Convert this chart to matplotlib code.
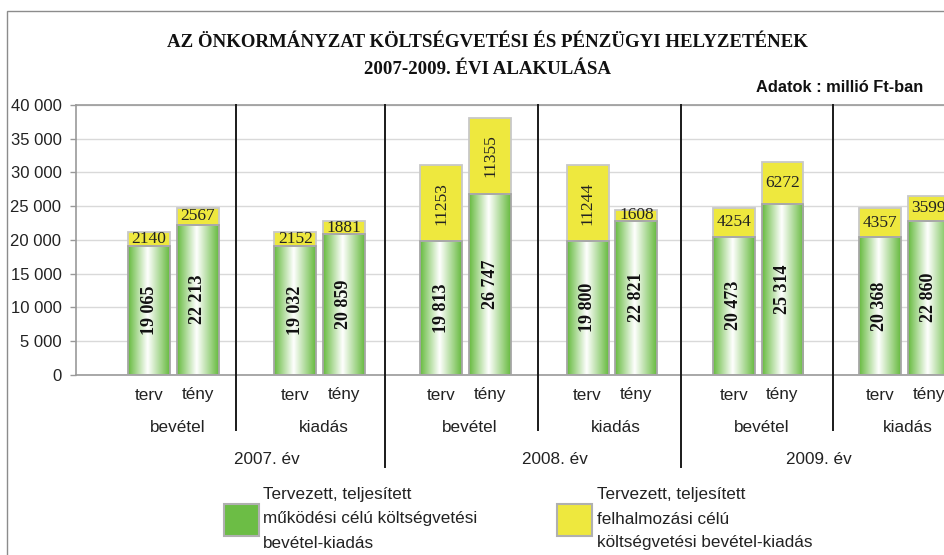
import numpy as np
import matplotlib
matplotlib.use("Agg")
import matplotlib.pyplot as plt
from matplotlib.patches import Rectangle
from matplotlib.colors import LinearSegmentedColormap
import matplotlib.transforms as mtransforms

# ---------------- data ----------------
years = ["2007. év", "2008. év", "2009. év"]
groups = ["bevétel", "kiadás", "bevétel", "kiadás", "bevétel", "kiadás"]
subcats = ["terv", "tény"] * 6
mukodesi = [19065, 22213, 19032, 20859, 19813, 26747, 19800, 22821, 20473, 25314, 20368, 22860]
felhalmozasi = [2140, 2567, 2152, 1881, 11253, 11355, 11244, 1608, 4254, 6272, 4357, 3599]
yticks = [0, 5000, 10000, 15000, 20000, 25000, 30000, 35000, 40000]
title = "AZ ÖNKORMÁNYZAT KÖLTSÉGVETÉSI ÉS PÉNZÜGYI HELYZETÉNEK\n2007-2009. ÉVI ALAKULÁSA"
unit_note = "Adatok : millió Ft-ban"
legend_labels = ["Tervezett, teljesített\nműködési célú költségvetési\nbevétel-kiadás",
                 "Tervezett, teljesített\nfelhalmozási célú\nköltségvetési bevétel-kiadás"]

# ---------------- layout ----------------
W, H = 944, 555
fig = plt.figure(figsize=(W / 100, H / 100), dpi=100)
fig.patch.set_facecolor("white")

def fx(px):
    return px / W

def fy(py):
    return 1 - py / H

ax_left, ax_right, ax_top, ax_bot = 76, 953, 105, 374.6
ax = fig.add_axes([fx(ax_left), fy(ax_bot), fx(ax_right - ax_left), (ax_bot - ax_top) / H])
ax.set_facecolor("none")

green = "#6cbd45"
yellow = "#eee83e"
cmap = LinearSegmentedColormap.from_list("cyl", [(0, "#66ba3e"), (0.47, "#ffffff"), (1, "#66ba3e")])
grad = np.linspace(0, 1, 256).reshape(1, -1)

slots = [3 * (i // 2) + 1 + (i % 2) for i in range(len(mukodesi))]
bw = 0.86

gbars = ax.bar(slots, mukodesi, width=bw, facecolor="none", edgecolor="#a6a6a6",
               linewidth=1.3, zorder=4)
ybars = ax.bar(slots, felhalmozasi, bottom=mukodesi, width=bw, color=yellow,
               edgecolor="#c8c8c8", linewidth=1.3, zorder=3)

for b in gbars:
    x0 = b.get_x()
    im = ax.imshow(grad, cmap=cmap, extent=[x0, x0 + b.get_width(), 0, b.get_height()],
                   aspect="auto", zorder=2, interpolation="bicubic")
    im.set_clip_path(b)

# value labels
for s, g, f in zip(slots, mukodesi, felhalmozasi):
    ax.text(s, g / 2, f"{g:,}".replace(",", " "), rotation=90, ha="center", va="center",
            family="Liberation Serif", fontweight="bold", fontsize=13, color="#111", zorder=6)
    rot = 90 if f > 8000 else 0
    ax.text(s, g + f / 2, f"{f}", rotation=rot, ha="center", va="center",
            family="Liberation Serif", fontsize=12.5, color="#222", zorder=6)

ax.set_xlim(-0.5, 17.5)
ax.set_ylim(0, 40000)
ax.set_yticks(yticks)
ax.set_yticklabels([f"{v:,}".replace(",", " ") for v in yticks],
                   family="Liberation Sans", fontsize=12, color="#222")
ax.tick_params(axis="y", direction="out", length=4, width=1, color="#999999", pad=6.5)
ax.set_xticks([])
ax.yaxis.grid(True, color="#d9d9d9", linewidth=1)
ax.set_axisbelow(True)
for side in ["left", "top", "bottom"]:
    ax.spines[side].set_color("#9a9a9a")
    ax.spines[side].set_linewidth(1.2)
ax.spines["right"].set_visible(False)

# category labels below axis
tr = mtransforms.blended_transform_factory(ax.transData, ax.transAxes)
axh = ax_bot - ax_top

def afy(py):
    return (ax_bot - py) / axh

lab_font = dict(family="Liberation Sans", fontsize=12.3, color="#222", ha="center", va="center")
for s, c in zip(slots, subcats):
    ax.text(s, afy(395), c, transform=tr, clip_on=False, **lab_font)
for k, gname in enumerate(groups):
    ax.text(3 * k + 1.5 + 0.08, afy(427), gname, transform=tr, clip_on=False, **lab_font)
year_pos = [3.42, 9.33, 14.75]
for xp, yname in zip(year_pos, years):
    ax.text(xp, afy(459.5), yname, transform=tr, clip_on=False, **lab_font)

# separators (group / year boundaries)
sub_sep = [2.78, 8.98, 15.04]
year_sep = [5.84, 11.92]
for xs in sub_sep:
    ax.plot([xs, xs], [1, afy(430)], transform=tr, clip_on=False, color="#1a1a1a", lw=1.4, zorder=5)
for xs in year_sep:
    ax.plot([xs, xs], [1, afy(467)], transform=tr, clip_on=False, color="#1a1a1a", lw=1.4, zorder=5)

# title and note
fig.text(fx(487), fy(56), title, ha="center", va="center", family="Liberation Serif",
         fontweight="bold", fontsize=13.6, color="#111", linespacing=1.75)
fig.text(fx(923), fy(88), unit_note, ha="right", va="center", family="Liberation Sans",
         fontweight="bold", fontsize=11.8, color="#111")

# legend
for (bx, tx), lab, col in zip([(224, 263), (557, 597)], legend_labels, [green, yellow]):
    fig.patches.append(Rectangle((fx(bx), fy(536)), fx(35), 32 / H, transform=fig.transFigure,
                                 facecolor=col, edgecolor="#b0b0b0", linewidth=1.5))
    for j, line in enumerate(lab.split("\n")):
        fig.text(fx(tx), fy(495 + 24 * j), line, ha="left", va="center",
                 family="Liberation Sans", fontsize=12.3, color="#222")

# outer chart frame (extends beyond the visible canvas)
fig.patches.append(Rectangle((fx(7), fy(600)), fx(1000), 589 / H, transform=fig.transFigure,
                             facecolor="none", edgecolor="#8c8c8c", linewidth=1.0))

fig.savefig("out.png", dpi=100)
